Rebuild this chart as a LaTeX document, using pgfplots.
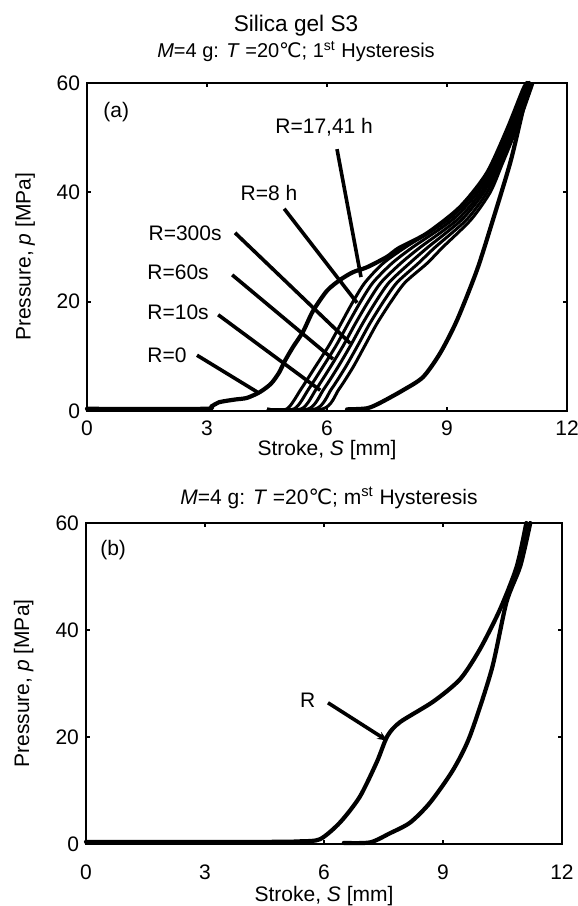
\documentclass[border=0pt]{standalone}
\usepackage{fontspec}
\setmainfont{Liberation Sans}
\newfontfamily\dejavu{DejaVu Sans}
\usepackage{pgfplots}
\pgfplotsset{compat=1.18}
\usetikzlibrary{arrows.meta}

\pgfplotsset{
  panel/.style={
    scale only axis,
    xmin=0, xmax=12, ymin=0, ymax=60,
    xtick={0,3,6,9,12}, ytick={0,20,40,60},
    tick align=inside, major tick length=2.2pt,
    axis line style={line width=1.1pt},
    every tick/.style={black, line width=1.1pt},
    ticklabel style={font=\fontsize{10.5}{12}\selectfont},
    /pgf/number format/assume math mode=true,
    label style={font=\fontsize{10.5}{12}\selectfont},
    xlabel style={inner sep=0.5pt},
    clip=false,
  },
}
\tikzset{
  curve/.style={black, line width=2.1pt, line join=round, line cap=round, smooth, tension=0.45},
  thin curve/.style={black, line width=1.5pt, line join=round, smooth, tension=0.45},
  pointer/.style={black, line width=1.8pt},
}
\newcommand{\ann}{\fontsize{10.5}{12}\selectfont}

\begin{document}
\begin{tikzpicture}
\path[use as bounding box] (0pt,0pt) rectangle (289pt,-453pt);

\node[anchor=base, font=\fontsize{11.3}{13}\selectfont] at (148pt,-15.5pt) {Silica gel S3};
\node[anchor=base, font=\fontsize{10}{12}\selectfont] at (148pt,-28.7pt)
  {\textit{M}=4 g: \textit{T} =20{\dejavu ℃}; 1\textsuperscript{st} Hysteresis};
\node[anchor=base, font=\fontsize{10.5}{12}\selectfont] at (164.5pt,-252pt)
  {\textit{M}=4 g: \textit{T} =20{\dejavu ℃}; m\textsuperscript{st} Hysteresis};

% panel (a)
\begin{axis}[panel,
  at={(43.5pt,-205.5pt)}, anchor=south west,
  width=240pt, height=164pt,
  xlabel={Stroke, \textit{S} [mm]},
  ylabel={Pressure, \textit{p} [MPa]},
  xlabel style={at={(axis description cs:0.5,-0.12)}, anchor=center},
  ylabel style={at={(axis description cs:-0.129,0.47)}, anchor=center},
  xticklabel style={inner sep=1pt, yshift=-3.75pt},
]
% R=0
\addplot[curve] coordinates {
  (0,0.4)(2.9,0.4)(3.1,0.8)(3.3,1.6)(3.7,2.1)(4.0,2.4)(4.33,3.5)(4.6,5)
  (4.8,7)(4.95,9.2)(5.15,11.7)(5.4,14.5)(5.65,18.3)(6.0,22)(6.33,24)
  (6.65,25.4)(7.0,26.3)(7.5,28.2)(7.8,29.8)(8.5,32.5)(9.33,37.3)(10.0,43.5)
  (10.5,51.4)(10.9,58.7)(11.0,60)};
% R=10s
\addplot[thin curve] coordinates {
  (4.5,0.3)(5.0,0.4)(5.35,4)(5.7,8)(6.05,12)(6.35,16)(6.65,20)(6.95,23.5)(7.4,27)
  (7.97,30)(9.03,35)(9.69,40)(10.14,45)(10.45,50)(10.73,55)(11.02,60)};
% R=60s
\addplot[thin curve] coordinates {
  (4.5,0.3)(5.18,0.4)(5.54,4)(5.89,8)(6.23,12)(6.53,16)(6.84,20)(7.15,23.5)(7.62,27)
  (8.15,30)(9.14,35)(9.77,40)(10.19,45)(10.49,50)(10.77,55)(11.05,60)};
% R=300s
\addplot[thin curve] coordinates {
  (4.5,0.3)(5.36,0.4)(5.73,4)(6.08,8)(6.41,12)(6.71,16)(7.03,20)(7.35,23.5)(7.84,27)
  (8.34,30)(9.26,35)(9.85,40)(10.23,45)(10.53,50)(10.80,55)(11.07,60)};
% R=8h
\addplot[thin curve] coordinates {
  (4.5,0.3)(5.54,0.4)(5.92,4)(6.27,8)(6.59,12)(6.89,16)(7.22,20)(7.55,23.5)(8.06,27)
  (8.53,30)(9.37,35)(9.92,40)(10.28,45)(10.57,50)(10.84,55)(11.10,60)};
% R=17h
\addplot[thin curve] coordinates {
  (4.5,0.3)(5.72,0.4)(6.11,4)(6.46,8)(6.77,12)(7.07,16)(7.41,20)(7.75,23.5)(8.28,27)
  (8.71,30)(9.49,35)(10.0,40)(10.32,45)(10.61,50)(10.87,55)(11.12,60)};
% R=41h
\addplot[thin curve] coordinates {
  (4.5,0.3)(5.9,0.4)(6.3,4)(6.65,8)(6.95,12)(7.25,16)(7.6,20)(7.95,23.5)(8.5,27)
  (8.9,30)(9.6,35)(10.08,40)(10.37,45)(10.65,50)(10.91,55)(11.15,60)};
% unloading
\addplot[curve] coordinates {
  (11.05,60)(10.83,53)(10.58,45.4)(10.15,35)(9.75,25.8)(9.25,16.6)(8.83,10.6)
  (8.4,6.2)(7.9,3.8)(7.33,1.5)(7.0,0.5)(6.5,0.3)};

\draw[pointer] (axis cs:2.75,10.2) -- (axis cs:4.25,3.5);
\draw[pointer] (axis cs:3.28,17.6) -- (axis cs:5.83,3.8);
\draw[pointer] (axis cs:3.63,24.9) -- (axis cs:6.15,9.5);
\draw[pointer] (axis cs:3.70,32.6) -- (axis cs:6.58,12.4);
\draw[pointer] (axis cs:4.93,37.0) -- (axis cs:6.75,19.8);
\draw[pointer] (axis cs:6.25,47.9) -- (axis cs:6.85,24.5);

\node[anchor=west, font=\ann, inner sep=0pt] at (axis cs:0.4,54.7) {(a)};
\node[anchor=west, font=\ann, inner sep=0pt] at (axis cs:4.7,51.9) {R=17,41 h};
\node[anchor=west, font=\ann, inner sep=0pt] at (axis cs:3.83,39.9) {R=8 h};
\node[anchor=west, font=\ann, inner sep=0pt] at (axis cs:1.53,32.6) {R=300s};
\node[anchor=west, font=\ann, inner sep=0pt] at (axis cs:1.5,25.4) {R=60s};
\node[anchor=west, font=\ann, inner sep=0pt] at (axis cs:1.5,18.1) {R=10s};
\node[anchor=west, font=\ann, inner sep=0pt] at (axis cs:1.5,10.2) {R=0};
\end{axis}

% panel (b)
\begin{axis}[panel,
  at={(43pt,-422pt)}, anchor=south west,
  width=238pt, height=160.5pt,
  xlabel={Stroke, \textit{S} [mm]},
  ylabel={Pressure, \textit{p} [MPa]},
  xlabel style={at={(axis description cs:0.5,-0.162)}, anchor=center},
  ylabel style={at={(axis description cs:-0.131,0.5)}, anchor=center},
  xticklabel style={inner sep=1pt, yshift=-9pt},
]
\addplot[curve] coordinates {
  (0,0.4)(4.5,0.4)(5.4,0.5)(5.9,0.9)(6.4,4)(6.9,8.8)(7.33,15.3)(7.6,20.2)
  (7.92,22.8)(8.75,26.6)(9.43,30.8)(9.93,36.4)(10.44,43.9)(10.86,51.9)(11.1,60)};
\addplot[curve] coordinates {
  (11.2,60)(10.95,52)(10.6,45.2)(10.23,32.7)(9.68,20.2)(9.25,13.8)(8.67,7.7)
  (8.17,4)(7.66,2)(7.16,0.3)(6.5,0.2)};

\draw[pointer, -{Stealth[length=5pt,width=4pt]}] (axis cs:6.1,26.4) -- (axis cs:7.6,19.3);
\node[anchor=west, font=\ann, inner sep=0pt] at (axis cs:0.35,55) {(b)};
\node[anchor=west, font=\ann, inner sep=0pt] at (axis cs:5.39,26.9) {R};
\end{axis}
\end{tikzpicture}
\end{document}
